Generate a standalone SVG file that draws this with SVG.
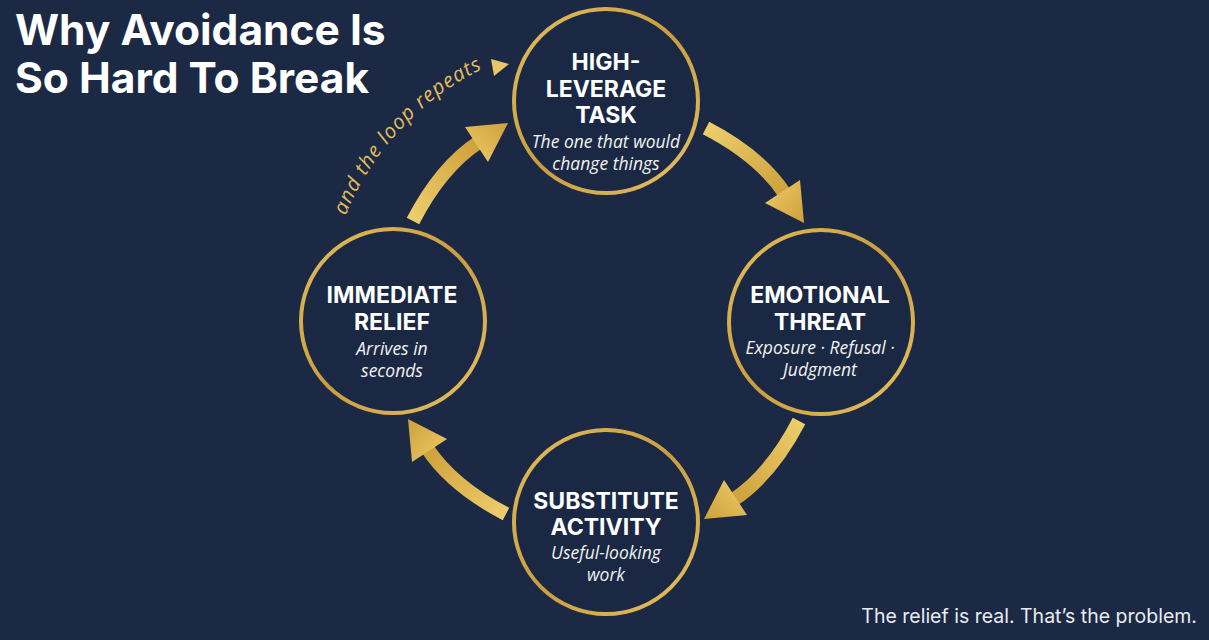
<svg xmlns="http://www.w3.org/2000/svg" width="1209" height="640" viewBox="0 0 1209 640">
  <defs>
    <linearGradient id="gold" x1="0" y1="0" x2="1" y2="1">
      <stop offset="0" stop-color="#eecd6c"/>
      <stop offset="1" stop-color="#cda03a"/>
    </linearGradient>
    <linearGradient id="ring" x1="0" y1="0" x2="1" y2="1">
      <stop offset="0" stop-color="#e2bd5c"/>
      <stop offset="0.5" stop-color="#c99d3f"/>
      <stop offset="1" stop-color="#e6c263"/>
    </linearGradient>
    <path id="loopArc" d="M 345.5,215.7 A 281,281 0 0 1 500,61"/>
  </defs>
  <style>
    .ring { fill: #1a2843; stroke: url(#ring); stroke-width: 4; }
    .hd { font-family: Inter, Roboto, "Liberation Sans", sans-serif; font-weight: 700; font-size: 23px; fill: #ffffff; text-anchor: middle; }
    .sub { font-family: "Open Sans", "Noto Sans", sans-serif; font-style: italic; font-size: 17.5px; fill: #f2f2f2; text-anchor: middle; }
    .shaft { fill: none; stroke: url(#gold); stroke-width: 14; }
    .head { fill: url(#gold); }
  </style>
  <rect width="1209" height="640" fill="#1b2945"/>

  <g id="title">
    <text x="15" y="45" font-family="Inter, Roboto, 'Liberation Sans', sans-serif" font-weight="700" font-size="42.5" fill="#ffffff">Why Avoidance Is</text>
    <text x="15" y="93" font-family="Inter, Roboto, 'Liberation Sans', sans-serif" font-weight="700" font-size="42.5" fill="#ffffff">So Hard To Break</text>
  </g>

  <g id="connectors">
    <g id="arrow-task-threat">
      <path class="shaft" d="M706,128 Q760,156 785,194"/>
      <polygon class="head" points="765,203 800,180 804,223"/>
    </g>
    <g id="arrow-threat-substitute" transform="rotate(90 606 321)">
      <path class="shaft" d="M706,128 Q760,156 785,194"/>
      <polygon class="head" points="765,203 800,180 804,223"/>
    </g>
    <g id="arrow-substitute-relief" transform="rotate(180 606 321)">
      <path class="shaft" d="M706,128 Q760,156 785,194"/>
      <polygon class="head" points="765,203 800,180 804,223"/>
    </g>
    <g id="arrow-relief-task" transform="rotate(270 606 321)">
      <path class="shaft" d="M706,128 Q760,156 785,194"/>
      <polygon class="head" points="765,203 800,180 804,223"/>
    </g>
    <g id="loop-label">
      <text font-family="'Open Sans', 'Noto Sans', sans-serif" font-style="italic" font-size="20.5" letter-spacing="0.9" fill="#e2bd5c"><textPath href="#loopArc">and the loop repeats</textPath></text>
      <polygon fill="#e8c566" points="491,59 509,64 494,76"/>
    </g>
  </g>

  <g id="node-task">
    <circle class="ring" cx="606" cy="101" r="92"/>
    <text class="hd" x="606" y="70">HIGH-</text>
    <text class="hd" x="606" y="97">LEVERAGE</text>
    <text class="hd" x="606" y="123">TASK</text>
    <text class="sub" x="606" y="148">The one that would</text>
    <text class="sub" x="606" y="170">change things</text>
  </g>

  <g id="node-threat">
    <circle class="ring" cx="821" cy="322" r="92"/>
    <text class="hd" x="820" y="303">EMOTIONAL</text>
    <text class="hd" x="820" y="330">THREAT</text>
    <text class="sub" x="820" y="354">Exposure · Refusal ·</text>
    <text class="sub" x="820" y="376">Judgment</text>
  </g>

  <g id="node-substitute">
    <circle class="ring" cx="606" cy="522" r="92"/>
    <text class="hd" x="606" y="509">SUBSTITUTE</text>
    <text class="hd" x="606" y="535">ACTIVITY</text>
    <text class="sub" x="606" y="559">Useful-looking</text>
    <text class="sub" x="606" y="581">work</text>
  </g>

  <g id="node-relief">
    <circle class="ring" cx="393" cy="321" r="92"/>
    <text class="hd" x="392" y="303">IMMEDIATE</text>
    <text class="hd" x="392" y="330">RELIEF</text>
    <text class="sub" x="392" y="355">Arrives in</text>
    <text class="sub" x="392" y="377">seconds</text>
  </g>

  <text id="footer" x="1197" y="623" text-anchor="end" font-family="Inter, Roboto, 'Liberation Sans', sans-serif" font-size="19.5" fill="#e8ecf2">The relief is real. That’s the problem.</text>
</svg>
